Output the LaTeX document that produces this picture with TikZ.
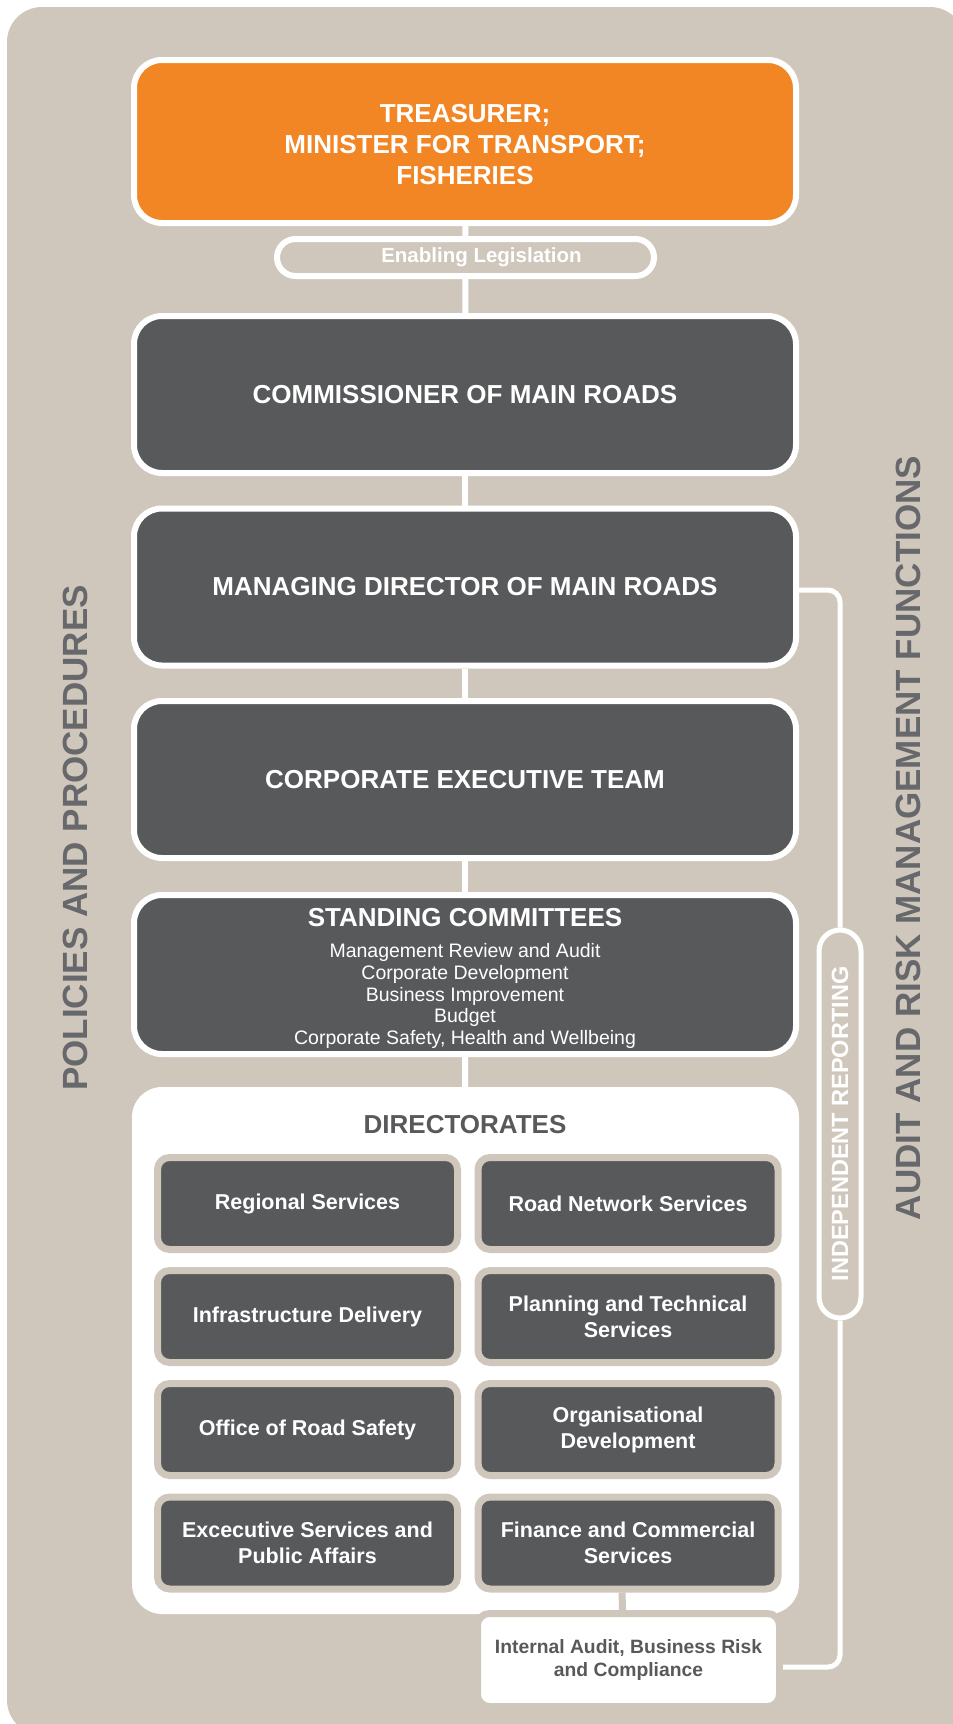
\documentclass[tikz,border=0pt]{standalone}
\usepackage{fontspec}
\setmainfont{Liberation Sans}
\definecolor{bgbeige}{HTML}{CFC7BC}
\definecolor{darkbox}{HTML}{58595B}
\definecolor{orangebox}{HTML}{F28524}
\definecolor{sidegray}{HTML}{67686B}
\newcommand\fsz[2]{\fontsize{#1}{#2}\selectfont}

\begin{document}
\begin{tikzpicture}[x=1pt,y=-1pt,
  mainbox/.style={draw=white, line width=6pt, rounded corners=28pt,
    minimum width=662pt, minimum height=157pt, inner sep=0pt,
    fill=darkbox, text=white, font=\fsz{26}{30.5}\bfseries, align=center},
  trunk/.style={draw=white, line width=6pt},
  dirbox/.style={draw=bgbeige, line width=7pt, rounded corners=12pt,
    fill=darkbox, minimum width=300pt, minimum height=92pt, inner sep=0pt,
    text=white, font=\fsz{21.5}{26}\bfseries, align=center},
  irline/.style={draw=white, line width=5pt, rounded corners=12pt},
  sidetext/.style={rotate=90, text=sidegray, font=\fsz{35}{40}\bfseries, inner sep=0pt}
]
% page and background panel
\useasboundingbox (0,0) rectangle (953,1724);
\begin{scope}
  \clip (0,0) rectangle (953,1724);
  \fill[bgbeige, rounded corners=35pt] (7,7) rectangle (965,1735);
\end{scope}

% main chain
\node[mainbox, fill=orangebox, minimum height=163pt] (treas) at (465,141.5) {};
\node[text=white, font=\fsz{26}{31}\bfseries, align=center, inner sep=0pt] (treastext) at (465,144.5)
  {TREASURER;\\MINISTER FOR TRANSPORT;\\FISHERIES};
\node[draw=white, line width=6pt, fill=bgbeige, rounded corners=18.5pt,
  minimum width=377pt, minimum height=37pt, inner sep=0pt,
  text=white, font=\fsz{20.5}{24}\bfseries] (enab) at (465.5,257.5)
  {\hspace*{32pt}Enabling Legislation};
\node[mainbox] (comm) at (465,394.5) {COMMISSIONER OF MAIN ROADS};
\node[mainbox] (md) at (465,587) {MANAGING DIRECTOR OF MAIN ROADS};
\node[mainbox] (cet) at (465,779.5) {CORPORATE EXECUTIVE TEAM};
\node[mainbox, minimum height=159pt] (stand) at (465,974.5) {};
\node[text=white, font=\fsz{26}{30}\bfseries, inner sep=0pt] (standtitle) at (465,918)
  {STANDING COMMITTEES};
\node[text=white, font=\fsz{19.5}{21.7}, align=center, inner sep=0pt] (standlist) at (465,996)
  {Management Review and Audit\\Corporate Development\\Business Improvement\\Budget\\Corporate Safety, Health and Wellbeing};

% directorates panel
\node[fill=white, rounded corners=30pt, minimum width=667pt, minimum height=527pt,
  inner sep=0pt] (dirpanel) at (465.5,1350.5) {};
\node[text=darkbox, font=\fsz{26}{30}\bfseries, inner sep=0pt] (dirtitle) at (465,1125)
  {DIRECTORATES};

\node[dirbox] (regional) at (307.5,1203.5) {Regional Services};
\node[dirbox] (network)  at (628,1203.5) {Road Network Services};
\node[dirbox] (infra)    at (307.5,1316.5) {Infrastructure Delivery};
\node[dirbox] (planning) at (628,1316.5) {Planning and Technical\\Services};
\node[dirbox] (safety)   at (307.5,1429.5) {Office of Road Safety};
\node[dirbox] (orgdev)   at (628,1429.5) {Organisational\\Development};
\node[dirbox] (exec)     at (307.5,1543) {Excecutive Services and\\Public Affairs};
\node[dirbox] (finance)  at (628,1543) {Finance and Commercial\\Services};

% internal audit box
\node[draw=bgbeige, line width=7pt, fill=white, rounded corners=12pt,
  minimum width=302pt, minimum height=93pt, inner sep=0pt,
  text=darkbox, font=\fsz{19.3}{23}\bfseries, align=center] (audit) at (628.5,1660)
  {Internal Audit, Business Risk\\and Compliance};
\draw[bgbeige, line width=7pt] ([xshift=-6pt]finance.south) -- ([xshift=-6pt]audit.north);

% trunk connectors
\draw[trunk] (treas) -- (enab);
\draw[trunk] (enab) -- (comm);
\draw[trunk] (comm) -- (md);
\draw[trunk] (md) -- (cet);
\draw[trunk] (cet) -- (stand);
\draw[trunk] (stand) -- (dirpanel);

% independent reporting line
\node[draw=white, line width=5pt, fill=bgbeige, rounded corners=21pt, rotate=90,
  minimum width=388pt, minimum height=42pt, inner sep=0pt,
  text=white, font=\fsz{23.5}{27}\bfseries] (irpill) at (840,1124) {INDEPENDENT REPORTING};
\draw[irline] ([yshift=-3pt]md.east) -| (irpill.east);
\draw[irline] (irpill.west) |- ([yshift=-7pt]audit.east);

% side titles
\node[sidetext] (policies) at (75,838) {POLICIES AND PROCEDURES};
\node[sidetext] (armf) at (908,838) {AUDIT AND RISK MANAGEMENT FUNCTIONS};
\end{tikzpicture}
\end{document}
